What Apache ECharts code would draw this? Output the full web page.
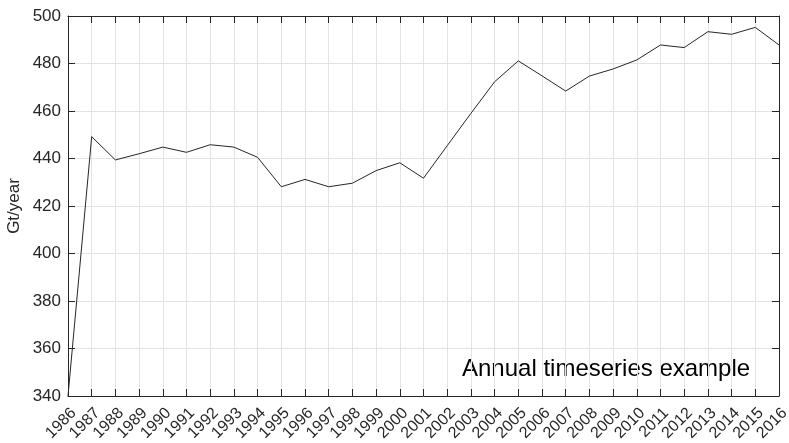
<!DOCTYPE html>
<html>
<head>
<meta charset="utf-8">
<script src="https://cdn.jsdelivr.net/npm/echarts@6/dist/echarts.min.js"></script>
<style>
  html, body { margin: 0; padding: 0; background: #fff; }
  #chart { width: 789px; height: 443px; }
</style>
</head>
<body>
<div id="chart"></div>
<script>
const years = [
  '1986', '1987', '1988', '1989', '1990', '1991', '1992', '1993', '1994', '1995',
  '1996', '1997', '1998', '1999', '2000', '2001', '2002', '2003', '2004', '2005',
  '2006', '2007', '2008', '2009', '2010', '2011', '2012', '2013', '2014', '2015', '2016',
];
const flux = [
  340, 449.2, 439.4, 442, 444.8, 442.6, 445.8, 444.8, 440.5, 428.1,
  431.2, 428.1, 429.6, 434.9, 438.2, 431.7, 445.4, 459, 472.3, 481.1,
  474.8, 468.4, 474.7, 477.7, 481.5, 487.8, 486.7, 493.4, 492.3, 495.2, 487.8,
];
const yMin = 340;
const yMax = 500;
const yStep = 20;
const yLabel = 'Gt/year';
const note = 'Annual timeseries example';

const axisColor = '#262626';
const gridColor = '#e3e3e3';
const font = 'Liberation Sans, Arial, sans-serif';

const chart = echarts.init(document.getElementById('chart'));

chart.setOption({
  animation: false,
  grid: {
    left: 68, right: 10, top: 16, bottom: 47,
    containLabel: false,
    outerBoundsMode: 'none',
  },
  xAxis: [
    {
      type: 'category',
      data: years,
      boundaryGap: false,
      axisLine: { lineStyle: { color: axisColor, width: 1 } },
      axisTick: { inside: true, length: 7, interval: 0, lineStyle: { color: axisColor } },
      splitLine: { show: true, interval: 0, lineStyle: { color: gridColor } },
      axisLabel: {
        interval: 0,
        rotate: 45,
        color: axisColor,
        fontFamily: font,
        fontSize: 16,
        margin: 9,
        verticalAlign: 'top',
        hideOverlap: false,
      },
    },
    {
      type: 'category',
      data: years,
      boundaryGap: false,
      position: 'top',
      axisLine: { lineStyle: { color: axisColor, width: 1 } },
      axisTick: { inside: true, length: 7, interval: 0, lineStyle: { color: axisColor } },
      axisLabel: { show: false },
      splitLine: { show: false },
    },
  ],
  yAxis: [
    {
      type: 'value',
      min: yMin,
      max: yMax,
      interval: yStep,
      name: yLabel,
      nameLocation: 'middle',
      nameGap: 45,
      nameMoveOverlap: false,
      nameTextStyle: { color: axisColor, fontFamily: font, fontSize: 17 },
      axisLine: { show: true, lineStyle: { color: axisColor, width: 1 } },
      axisTick: { show: true, inside: true, length: 7, lineStyle: { color: axisColor } },
      splitLine: { show: true, lineStyle: { color: gridColor } },
      axisLabel: {
        color: axisColor, fontFamily: font, fontSize: 17, margin: 7,
      },
    },
    {
      type: 'value',
      min: yMin,
      max: yMax,
      interval: yStep,
      position: 'right',
      axisLine: { show: true, lineStyle: { color: axisColor, width: 1 } },
      axisTick: { show: true, inside: true, length: 7, lineStyle: { color: axisColor } },
      axisLabel: { show: false },
      splitLine: { show: false },
    },
  ],
  graphic: [
    {
      type: 'text',
      left: 462,
      top: 357,
      style: {
        text: note,
        fill: '#000',
        font: '24px ' + font,
      },
    },
  ],
  series: [
    {
      type: 'line',
      data: flux,
      symbol: 'none',
      lineStyle: { color: '#262626', width: 1 },
    },
  ],
});
</script>
</body>
</html>
